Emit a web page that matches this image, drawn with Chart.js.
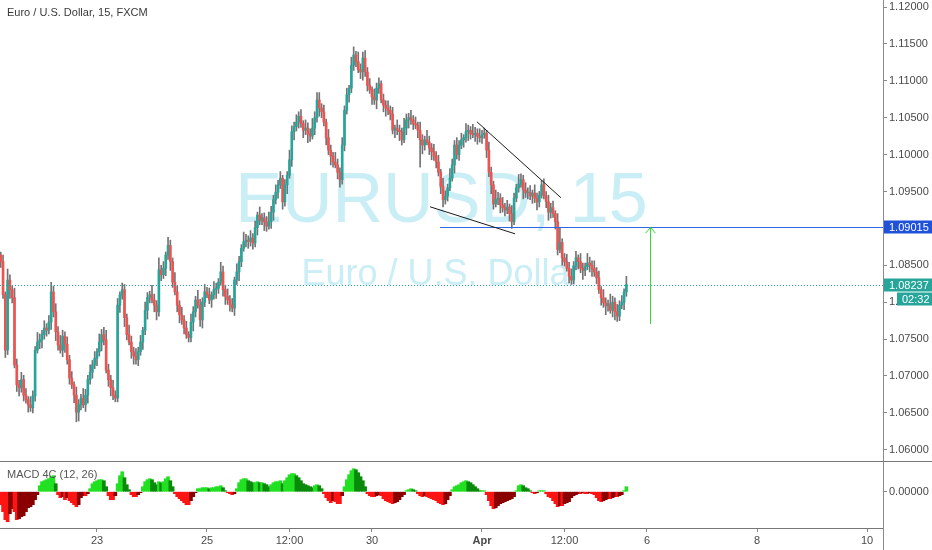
<!DOCTYPE html>
<html>
<head>
<meta charset="utf-8">
<title>EURUSD 15</title>
<script src="https://cdn.jsdelivr.net/npm/chart.js@4/dist/chart.umd.min.js"></script>
<style>
  html, body { margin: 0; padding: 0; background: #fff; }
  #wrap { position: relative; width: 932px; height: 550px; overflow: hidden; }
  #price { position: absolute; left: 0; top: 0; }
  #macd { position: absolute; left: 0; top: 461px; }
</style>
</head>
<body>
<div id="wrap">
  <canvas id="price" width="932" height="461"></canvas>
  <canvas id="macd" width="932" height="89"></canvas>
</div>
<script>
const FONT = "'Liberation Sans', Arial, sans-serif";

// time axis, in trading days counted from Mon 23 Mar (weekends removed)
const firstCandleDay = -1.75;   // hourly candles from here on
const dayTicks = [0, 2, 3.5, 5, 7, 8.5, 10, 12, 14];
const dayLabels = ['23', '25', '12:00', '30', 'Apr', '12:00', '6', '8', '10'];
const priceTicks = [1.06, 1.065, 1.07, 1.075, 1.08, 1.085, 1.09, 1.095, 1.10, 1.105, 1.11, 1.115, 1.12];

const opens = [
  1.0864,1.0855,1.0810,1.0735,1.0830,1.0817,1.0806,1.0715,1.0688,1.0684,
  1.0695,1.0674,1.0668,1.0661,1.0657,1.0673,1.0735,1.0746,1.0749,1.0756,
  1.0765,1.0762,1.0773,1.0814,1.0787,1.0760,1.0742,1.0735,1.0754,1.0743,
  1.0722,1.0697,1.0688,1.0674,1.0651,1.0661,1.0670,1.0661,1.0674,1.0695,
  1.0705,1.0715,1.0724,1.0733,1.0746,1.0756,1.0749,1.0708,1.0695,1.0684,
  1.0674,1.0670,1.0796,1.0810,1.0817,1.0779,1.0756,1.0746,1.0733,1.0727,
  1.0722,1.0733,1.0746,1.0762,1.0789,1.0806,1.0810,1.0803,1.0796,1.0787,
  1.0844,1.0837,1.0846,1.0864,1.0877,1.0855,1.0827,1.0814,1.0796,1.0783,
  1.0776,1.0765,1.0756,1.0752,1.0773,1.0787,1.0803,1.0796,1.0776,1.0800,
  1.0814,1.0810,1.0803,1.0810,1.0817,1.0819,1.0827,1.0841,1.0817,1.0808,
  1.0803,1.0796,1.0792,1.0830,1.0841,1.0855,1.0873,1.0882,1.0884,1.0882,
  1.0887,1.0880,1.0901,1.0918,1.0911,1.0914,1.0909,1.0903,1.0909,1.0922,
  1.0939,1.0949,1.0959,1.0968,1.0936,1.0959,1.0972,1.0993,1.1031,1.1038,
  1.1044,1.1052,1.1042,1.1033,1.1036,1.1028,1.1025,1.1036,1.1050,1.1074,
  1.1063,1.1058,1.1044,1.1023,1.1006,1.0998,1.0990,1.0986,1.0976,1.0966,
  1.1013,1.1060,1.1081,1.1090,1.1121,1.1135,1.1126,1.1115,1.1112,1.1131,
  1.1112,1.1094,1.1088,1.1078,1.1074,1.1090,1.1096,1.1074,1.1067,1.1063,
  1.1060,1.1055,1.1033,1.1036,1.1033,1.1031,1.1020,1.1036,1.1047,1.1050,
  1.1047,1.1042,1.1040,1.1033,1.1020,1.1013,1.1020,1.1017,1.1009,1.1004,
  1.0998,1.0990,1.0976,1.0957,1.0939,1.0944,1.0955,1.0968,1.0986,1.1013,
  1.1000,1.1013,1.1020,1.1023,1.1031,1.1033,1.1028,1.1027,1.1029,1.1025,
  1.1023,1.1027,1.1029,1.1006,1.0976,1.0959,1.0933,1.0939,1.0941,1.0932,
  1.0928,1.0925,1.0929,1.0920,1.0909,1.0941,1.0955,1.0960,1.0966,1.0952,
  1.0948,1.0949,1.0944,1.0948,1.0941,1.0936,1.0945,1.0959,1.0944,1.0936,
  1.0922,1.0928,1.0920,1.0909,1.0871,1.0881,1.0860,1.0855,1.0846,1.0835,
  1.0830,1.0849,1.0860,1.0855,1.0846,1.0843,1.0848,1.0853,1.0850,1.0846,
  1.0841,1.0833,1.0817,1.0806,1.0799,1.0795,1.0798,1.0789,1.0800,1.0787,
  1.0781,1.0796,1.0800,1.0814
];
const highs = [
  1.0868,1.0864,1.0814,1.0845,1.0837,1.0822,1.0819,1.0723,1.0694,1.0705,
  1.0701,1.0683,1.0672,1.0672,1.0680,1.0740,1.0759,1.0757,1.0762,1.0775,
  1.0771,1.0782,1.0827,1.0822,1.0798,1.0767,1.0755,1.0762,1.0760,1.0753,
  1.0728,1.0706,1.0692,1.0685,1.0668,1.0675,1.0683,1.0682,1.0701,1.0715,
  1.0721,1.0733,1.0737,1.0757,1.0763,1.0766,1.0762,1.0716,1.0701,1.0694,
  1.0680,1.0805,1.0814,1.0826,1.0824,1.0784,1.0769,1.0754,1.0739,1.0737,
  1.0739,1.0755,1.0766,1.0800,1.0813,1.0815,1.0823,1.0811,1.0802,1.0860,
  1.0850,1.0855,1.0868,1.0888,1.0884,1.0860,1.0840,1.0822,1.0802,1.0793,
  1.0782,1.0774,1.0760,1.0784,1.0794,1.0808,1.0816,1.0804,1.0806,1.0824,
  1.0820,1.0819,1.0814,1.0828,1.0826,1.0832,1.0854,1.0849,1.0823,1.0818,
  1.0809,1.0805,1.0834,1.0852,1.0862,1.0878,1.0895,1.0892,1.0890,1.0897,
  1.0893,1.0910,1.0922,1.0929,1.0920,1.0921,1.0916,1.0922,1.0930,1.0945,
  1.0959,1.0965,1.0977,1.0972,1.0966,1.0977,1.1006,1.1039,1.1044,1.1054,
  1.1058,1.1061,1.1046,1.1047,1.1043,1.1035,1.1049,1.1058,1.1084,1.1084,
  1.1069,1.1067,1.1048,1.1034,1.1013,1.1003,1.1003,1.0994,1.0982,1.1023,
  1.1066,1.1090,1.1094,1.1132,1.1146,1.1140,1.1139,1.1123,1.1139,1.1141,
  1.1118,1.1103,1.1092,1.1089,1.1097,1.1104,1.1100,1.1082,1.1073,1.1073,
  1.1066,1.1064,1.1040,1.1047,1.1040,1.1036,1.1049,1.1055,1.1056,1.1060,
  1.1053,1.1051,1.1044,1.1044,1.1027,1.1025,1.1033,1.1025,1.1015,1.1014,
  1.1004,1.0999,1.0980,1.0968,1.0951,1.0960,1.0981,1.0994,1.1019,1.1023,
  1.1019,1.1029,1.1027,1.1042,1.1040,1.1038,1.1041,1.1037,1.1035,1.1035,
  1.1033,1.1036,1.1033,1.1017,1.0983,1.0964,1.0952,1.0949,1.0947,1.0942,
  1.0934,1.0938,1.0933,1.0931,1.0948,1.0960,1.0973,1.0974,1.0972,1.0962,
  1.0955,1.0958,1.0952,1.0959,1.0948,1.0950,1.0965,1.0967,1.0950,1.0945,
  1.0934,1.0937,1.0924,1.0920,1.0900,1.0886,1.0866,1.0865,1.0854,1.0845,
  1.0855,1.0869,1.0864,1.0866,1.0853,1.0853,1.0866,1.0861,1.0856,1.0856,
  1.0847,1.0842,1.0821,1.0817,1.0806,1.0803,1.0811,1.0808,1.0806,1.0797,
  1.0802,1.0809,1.0818,1.0835
];
const lows = [
  1.0847,1.0805,1.0725,1.0729,1.0805,1.0799,1.0711,1.0679,1.0673,1.0678,
  1.0666,1.0663,1.0651,1.0652,1.0650,1.0666,1.0731,1.0737,1.0738,1.0750,
  1.0754,1.0757,1.0763,1.0780,1.0748,1.0735,1.0731,1.0726,1.0732,1.0716,
  1.0689,1.0683,1.0664,1.0638,1.0639,1.0654,1.0657,1.0652,1.0663,1.0689,
  1.0697,1.0710,1.0714,1.0727,1.0734,1.0742,1.0704,1.0686,1.0673,1.0668,
  1.0665,1.0665,1.0786,1.0804,1.0767,1.0749,1.0742,1.0724,1.0716,1.0716,
  1.0714,1.0728,1.0736,1.0756,1.0777,1.0799,1.0799,1.0787,1.0776,1.0781,
  1.0829,1.0832,1.0836,1.0858,1.0843,1.0820,1.0810,1.0787,1.0772,1.0770,
  1.0757,1.0751,1.0746,1.0746,1.0761,1.0780,1.0792,1.0767,1.0765,1.0794,
  1.0806,1.0798,1.0793,1.0804,1.0805,1.0812,1.0823,1.0808,1.0797,1.0797,
  1.0788,1.0787,1.0782,1.0824,1.0829,1.0848,1.0869,1.0875,1.0873,1.0876,
  1.0872,1.0875,1.0891,1.0905,1.0905,1.0897,1.0896,1.0899,1.0900,1.0911,
  1.0933,1.0941,1.0954,1.0926,1.0930,1.0947,1.0968,1.0984,1.1020,1.1032,
  1.1036,1.1037,1.1023,1.1027,1.1016,1.1018,1.1021,1.1027,1.1044,1.1052,
  1.1050,1.1039,1.1013,1.1000,1.0986,1.0983,1.0982,1.0967,1.0956,1.0960,
  1.1005,1.1055,1.1071,1.1084,1.1114,1.1119,1.1111,1.1103,1.1101,1.1106,
  1.1086,1.1083,1.1068,1.1068,1.1062,1.1083,1.1070,1.1058,1.1052,1.1054,
  1.1047,1.1028,1.1023,1.1027,1.1019,1.1013,1.1016,1.1027,1.1036,1.1041,
  1.1034,1.1035,1.1023,1.0983,1.1001,1.1006,1.1013,1.1000,1.0993,1.0992,
  1.0982,1.0971,1.0947,1.0929,1.0933,1.0937,1.0951,1.0964,1.0975,1.0994,
  1.0992,1.1008,1.1010,1.1017,1.1019,1.1021,1.1023,1.1018,1.1014,1.1017,
  1.1015,1.1022,1.0996,1.0970,1.0947,1.0926,1.0929,1.0932,1.0921,1.0922,
  1.0917,1.0920,1.0910,1.0900,1.0905,1.0936,1.0949,1.0956,1.0940,1.0942,
  1.0940,1.0939,1.0934,1.0935,1.0925,1.0929,1.0941,1.0940,1.0928,1.0911,
  1.0914,1.0915,1.0899,1.0864,1.0867,1.0850,1.0849,1.0842,1.0826,1.0824,
  1.0825,1.0844,1.0845,1.0840,1.0831,1.0836,1.0844,1.0841,1.0835,1.0835,
  1.0825,1.0812,1.0796,1.0793,1.0783,1.0788,1.0785,1.0780,1.0776,1.0774,
  1.0775,1.0791,1.0790,1.0808
];
const closes = [
  1.0855,1.0810,1.0735,1.0830,1.0817,1.0806,1.0715,1.0688,1.0684,1.0695,
  1.0674,1.0668,1.0661,1.0657,1.0673,1.0735,1.0746,1.0749,1.0756,1.0765,
  1.0762,1.0773,1.0814,1.0787,1.0760,1.0742,1.0735,1.0754,1.0743,1.0722,
  1.0697,1.0688,1.0674,1.0651,1.0661,1.0670,1.0661,1.0674,1.0695,1.0705,
  1.0715,1.0724,1.0733,1.0746,1.0756,1.0749,1.0708,1.0695,1.0684,1.0674,
  1.0670,1.0796,1.0810,1.0817,1.0779,1.0756,1.0746,1.0733,1.0727,1.0722,
  1.0733,1.0746,1.0762,1.0789,1.0806,1.0810,1.0803,1.0796,1.0787,1.0844,
  1.0837,1.0846,1.0864,1.0877,1.0855,1.0827,1.0814,1.0796,1.0783,1.0776,
  1.0765,1.0756,1.0752,1.0773,1.0787,1.0803,1.0796,1.0776,1.0800,1.0814,
  1.0810,1.0803,1.0810,1.0817,1.0819,1.0827,1.0841,1.0817,1.0808,1.0803,
  1.0796,1.0792,1.0830,1.0841,1.0855,1.0873,1.0882,1.0884,1.0882,1.0887,
  1.0880,1.0901,1.0918,1.0911,1.0914,1.0909,1.0903,1.0909,1.0922,1.0939,
  1.0949,1.0959,1.0968,1.0936,1.0959,1.0972,1.0993,1.1031,1.1038,1.1044,
  1.1052,1.1042,1.1033,1.1036,1.1028,1.1025,1.1036,1.1050,1.1074,1.1063,
  1.1058,1.1044,1.1023,1.1006,1.0998,1.0990,1.0986,1.0976,1.0966,1.1013,
  1.1060,1.1081,1.1090,1.1121,1.1135,1.1126,1.1115,1.1112,1.1131,1.1112,
  1.1094,1.1088,1.1078,1.1074,1.1090,1.1096,1.1074,1.1067,1.1063,1.1060,
  1.1055,1.1033,1.1036,1.1033,1.1031,1.1020,1.1036,1.1047,1.1050,1.1047,
  1.1042,1.1040,1.1033,1.1020,1.1013,1.1020,1.1017,1.1009,1.1004,1.0998,
  1.0990,1.0976,1.0957,1.0939,1.0944,1.0955,1.0968,1.0986,1.1013,1.1000,
  1.1013,1.1020,1.1023,1.1031,1.1033,1.1028,1.1027,1.1029,1.1025,1.1023,
  1.1027,1.1029,1.1006,1.0976,1.0959,1.0933,1.0939,1.0941,1.0932,1.0928,
  1.0925,1.0929,1.0920,1.0909,1.0941,1.0955,1.0960,1.0966,1.0952,1.0948,
  1.0949,1.0944,1.0948,1.0941,1.0936,1.0945,1.0959,1.0944,1.0936,1.0922,
  1.0928,1.0920,1.0909,1.0871,1.0881,1.0860,1.0855,1.0846,1.0835,1.0830,
  1.0849,1.0860,1.0855,1.0846,1.0843,1.0848,1.0853,1.0850,1.0846,1.0841,
  1.0833,1.0817,1.0806,1.0799,1.0795,1.0798,1.0789,1.0800,1.0787,1.0781,
  1.0796,1.0800,1.0814,1.0824
];
// MACD 4C (12, 26) histogram, one value per candle
const macd = [
  -0.0013,-0.0020,-0.0028,-0.0030,-0.0022,-0.0017,-0.0020,-0.0028,-0.0027,-0.0025,
  -0.0024,-0.0020,-0.0016,-0.0015,-0.0013,-0.0008,-0.0003,0.0006,0.0010,0.0011,
  0.0012,0.0013,0.0015,0.0016,0.0008,-0.0003,-0.0006,-0.0005,-0.0008,-0.0006,
  -0.0009,-0.0011,-0.0013,-0.0015,-0.0013,-0.0006,-0.0004,-0.0004,-0.0002,0.0003,
  0.0008,0.0010,0.0011,0.0012,0.0012,0.0011,0.0005,-0.0004,-0.0008,-0.0008,
  -0.0004,0.0008,0.0016,0.0020,0.0014,0.0007,0.0002,-0.0003,-0.0005,-0.0005,
  -0.0003,-0.0001,0.0005,0.0010,0.0012,0.0013,0.0012,0.0009,0.0007,0.0010,
  0.0009,0.0010,0.0013,0.0015,0.0011,0.0005,-0.0002,-0.0005,-0.0007,-0.0009,
  -0.0011,-0.0013,-0.0013,-0.0009,-0.0005,-0.0001,0.0003,0.0003,0.0004,0.0004,
  0.0004,0.0003,0.0004,0.0004,0.0005,0.0005,0.0006,0.0004,0.0001,-0.0001,
  -0.0002,-0.0003,-0.0002,0.0003,0.0009,0.0012,0.0013,0.0013,0.0011,0.0010,
  0.0009,0.0009,0.0010,0.0009,0.0009,0.0008,0.0007,0.0005,0.0007,0.0009,
  0.0010,0.0010,0.0011,0.0008,0.0011,0.0014,0.0017,0.0018,0.0018,0.0016,
  0.0014,0.0011,0.0008,0.0007,0.0006,0.0005,0.0004,0.0006,0.0007,0.0006,
  0.0003,-0.0002,-0.0006,-0.0009,-0.0011,-0.0009,-0.0010,-0.0012,-0.0012,-0.0004,
  0.0005,0.0012,0.0017,0.0021,0.0023,0.0022,0.0019,0.0015,0.0011,0.0005,
  -0.0002,-0.0004,-0.0005,-0.0005,-0.0004,-0.0003,-0.0004,-0.0007,-0.0009,-0.0010,
  -0.0011,-0.0012,-0.0011,-0.0010,-0.0008,-0.0005,-0.0003,0.0001,0.0002,0.0003,
  0.0002,0.0001,-0.0002,-0.0004,-0.0005,-0.0004,-0.0005,-0.0006,-0.0007,-0.0008,
  -0.0009,-0.0011,-0.0012,-0.0013,-0.0012,-0.0008,-0.0004,0.0002,0.0005,0.0006,
  0.0007,0.0009,0.0010,0.0011,0.0010,0.0009,0.0007,0.0005,0.0003,0.0001,
  0.0001,0.0001,-0.0003,-0.0009,-0.0014,-0.0017,-0.0016,-0.0014,-0.0012,-0.0011,
  -0.0010,-0.0009,-0.0008,-0.0007,-0.0005,0.0001,0.0006,0.0007,0.0006,0.0004,
  0.0003,0.0001,-0.0001,-0.0002,-0.0001,0.0001,0.0001,0.0001,-0.0002,-0.0005,
  -0.0006,-0.0009,-0.0012,-0.0015,-0.0014,-0.0014,-0.0012,-0.0011,-0.0010,-0.0006,
  -0.0004,-0.0003,-0.0002,-0.0002,-0.0001,-0.0002,-0.0002,-0.0001,-0.0002,-0.0003,
  -0.0006,-0.0009,-0.0010,-0.0009,-0.0008,-0.0007,-0.0007,-0.0006,-0.0005,-0.0005,
  -0.0004,-0.0003,0.0001,0.0005
];

// drawings on the chart (day, price)
const lastPrice = 1.08237;
const barCountdown = '02:32';
const levelPrice = 1.09015;
const levelStartDay = 6.236;
const trendLines = [
  [6.909, 1.10444, 8.436, 1.09415],
  [6.055, 1.09293, 7.600, 1.08927]
];
const arrowDay = 10.055, arrowFrom = 1.07705, arrowTo = 1.09015;

// visible window
const xMin = -1.7636, xMax = 14.2909;

const times = closes.map((c, i) => firstCandleDay + i / 24);
const wickData = times.map((t, i) => ({ x: t, y: [lows[i], highs[i]] }));
const bodyData = times.map((t, i) => ({ x: t, y: [opens[i], closes[i]] }));
const bodyColors = closes.map((c, i) => c >= opens[i] ? '#26a69a' : '#ef5350');

const macdData = times.map((t, i) => ({ x: t, y: macd[i] }));
const macdColors = macd.map((v, i) => {
  const prev = i ? macd[i - 1] : v;
  if (v >= 0) return v >= prev ? '#22e022' : '#0a8a0a';
  return v <= prev ? '#ff1414' : '#8a0000';
});

const priceOverlay = {
  id: 'priceOverlay',
  beforeDatasetsDraw(chart) {
    const { ctx, chartArea: a } = chart;
    const cx = (a.left + a.right) / 2;
    ctx.save();
    ctx.fillStyle = '#c9eef5';
    ctx.textAlign = 'center';
    ctx.font = '70px ' + FONT;
    ctx.fillText('EURUSD, 15', cx, 222);
    ctx.font = '36px ' + FONT;
    ctx.fillText('Euro / U.S. Dollar', cx, 285);
    ctx.restore();
  },
  afterDatasetsDraw(chart) {
    const { ctx, chartArea: a, scales: { x, y } } = chart;
    ctx.save();
    // last price line
    const ly = Math.round(y.getPixelForValue(lastPrice)) + 0.5;
    ctx.strokeStyle = '#26a69a';
    ctx.lineWidth = 1;
    ctx.setLineDash([1, 2]);
    ctx.beginPath(); ctx.moveTo(a.left, ly); ctx.lineTo(a.right, ly); ctx.stroke();
    ctx.setLineDash([]);
    // horizontal level
    const hy = Math.round(y.getPixelForValue(levelPrice)) + 0.5;
    ctx.strokeStyle = '#2f66e6';
    ctx.beginPath(); ctx.moveTo(x.getPixelForValue(levelStartDay), hy); ctx.lineTo(a.right, hy); ctx.stroke();
    // trend lines
    ctx.strokeStyle = '#1b1b1b';
    trendLines.forEach(l => {
      ctx.beginPath();
      ctx.moveTo(x.getPixelForValue(l[0]), y.getPixelForValue(l[1]));
      ctx.lineTo(x.getPixelForValue(l[2]), y.getPixelForValue(l[3]));
      ctx.stroke();
    });
    // arrow
    const ax = Math.round(x.getPixelForValue(arrowDay)) + 0.5;
    const ay0 = y.getPixelForValue(arrowFrom), ay1 = y.getPixelForValue(arrowTo);
    ctx.strokeStyle = '#3ad63a';
    ctx.beginPath();
    ctx.moveTo(ax, ay0); ctx.lineTo(ax, ay1);
    ctx.moveTo(ax - 5, ay1 + 6); ctx.lineTo(ax, ay1); ctx.lineTo(ax + 5, ay1 + 6);
    ctx.stroke();
    ctx.restore();
  },
  afterDraw(chart) {
    const { ctx, chartArea: a, scales: { y } } = chart;
    ctx.save();
    ctx.font = '11px ' + FONT;
    ctx.fillStyle = '#3a3a3a';
    ctx.textBaseline = 'alphabetic';
    ctx.fillText('Euro / U.S. Dollar, 15, FXCM', 7, 16);
    // axis price labels
    ctx.textBaseline = 'middle';
    const box = (cy, text, bg, left) => {
      ctx.fillStyle = bg;
      ctx.fillRect(left, Math.round(cy) - 6.5, 932 - left, 13);
      ctx.fillStyle = '#fff';
      ctx.fillText(text, left + 5, Math.round(cy) + 0.5);
    };
    const by = y.getPixelForValue(levelPrice);
    const ty = y.getPixelForValue(lastPrice);
    box(by, levelPrice.toFixed(5), '#1f52d9', a.right + 1);
    box(ty, lastPrice.toFixed(5), '#26a69a', a.right + 1);
    box(ty + 14, barCountdown, '#26a69a', a.right + 14);
    ctx.restore();
  }
};

new Chart(document.getElementById('price'), {
  type: 'bar',
  data: {
    datasets: [
      { data: wickData, backgroundColor: '#737375', barThickness: 1, grouped: false, order: 2 },
      { data: bodyData, backgroundColor: bodyColors, barThickness: 2, minBarLength: 1, grouped: false, order: 1 }
    ]
  },
  options: {
    responsive: false,
    animation: false,
    events: [],
    layout: { padding: 0 },
    plugins: { legend: { display: false }, tooltip: { enabled: false } },
    scales: {
      x: { type: 'linear', min: xMin, max: xMax, display: false, offset: false, grid: { offset: false } },
      y: {
        type: 'linear',
        position: 'right',
        min: 1.05848,
        max: 1.12095,
        afterBuildTicks: s => { s.ticks = priceTicks.map(v => ({ value: v })); },
        afterFit: s => { s.width = 49; s.paddingTop = 0; s.paddingBottom = 0; },
        grid: { drawOnChartArea: false, tickLength: 4, color: '#8a8a8a' },
        border: { color: '#8a8a8a' },
        ticks: {
          callback: v => v.toFixed(5),
          font: { family: FONT, size: 11 },
          color: '#4a4a4a',
          padding: 2
        }
      }
    }
  },
  plugins: [priceOverlay]
});

const macdOverlay = {
  id: 'macdOverlay',
  afterDraw(chart) {
    const { ctx, chartArea: a } = chart;
    ctx.save();
    ctx.strokeStyle = '#777';
    ctx.lineWidth = 1;
    ctx.beginPath();
    ctx.moveTo(0, 0.5); ctx.lineTo(932, 0.5);
    ctx.stroke();
    ctx.strokeStyle = '#8a8a8a';
    ctx.beginPath();
    ctx.moveTo(a.right + 0.5, a.bottom); ctx.lineTo(a.right + 0.5, chart.height);
    ctx.stroke();
    ctx.font = '11px ' + FONT;
    ctx.fillStyle = '#555';
    ctx.fillText('MACD 4C (12, 26)', 7, 17);
    ctx.restore();
  }
};

new Chart(document.getElementById('macd'), {
  type: 'bar',
  data: {
    datasets: [
      { data: macdData, backgroundColor: macdColors, barThickness: 3, grouped: false }
    ]
  },
  options: {
    responsive: false,
    animation: false,
    events: [],
    layout: { padding: 0 },
    plugins: { legend: { display: false }, tooltip: { enabled: false } },
    scales: {
      x: {
        type: 'linear',
        min: xMin,
        max: xMax,
        offset: false,
        afterBuildTicks: s => { s.ticks = dayTicks.map(v => ({ value: v })); },
        afterFit: s => { s.height = 22; s.paddingLeft = 0; s.paddingRight = 0; },
        grid: { drawOnChartArea: false, offset: false, tickLength: 4, color: '#8a8a8a' },
        border: { color: '#777' },
        ticks: {
          autoSkip: false,
          maxRotation: 0,
          callback: (v, i) => dayLabels[i],
          font: ctx => ({ family: FONT, size: 11, weight: ctx.index === 4 ? 'bold' : 'normal' }),
          color: '#4a4a4a',
          padding: 2
        }
      },
      y: {
        type: 'linear',
        position: 'right',
        min: -0.00363,
        max: 0.00307,
        afterBuildTicks: s => { s.ticks = [{ value: 0 }]; },
        afterFit: s => { s.width = 49; s.paddingTop = 0; s.paddingBottom = 0; },
        grid: { drawOnChartArea: false, tickLength: 4, color: '#8a8a8a' },
        border: { color: '#8a8a8a' },
        ticks: {
          callback: v => v.toFixed(5),
          font: { family: FONT, size: 11 },
          color: '#4a4a4a',
          padding: 2
        }
      }
    }
  },
  plugins: [macdOverlay]
});
</script>
</body>
</html>
